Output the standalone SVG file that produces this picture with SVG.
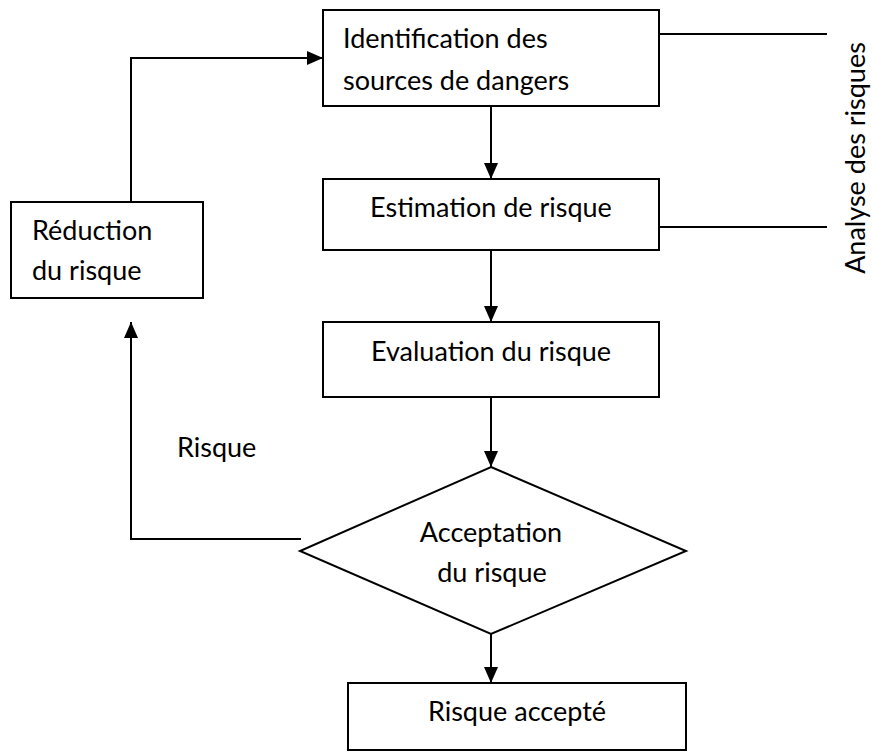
<svg xmlns="http://www.w3.org/2000/svg" width="872" height="753" viewBox="0 0 872 753">
<style>
.box{fill:#fff;stroke:#000;stroke-width:2}
.t{font-family:Lato,"Open Sans",sans-serif;font-size:27px;fill:#000}
.c{text-anchor:middle}
.ln{fill:none;stroke:#000;stroke-width:2}
</style>
<defs>
<marker id="ah" markerUnits="userSpaceOnUse" markerWidth="18" markerHeight="14" refX="16" refY="7" orient="auto">
<path d="M0,0 L16,7 L0,14 Z" fill="#000"/>
</marker>
</defs>
<rect width="872" height="753" fill="#fff"/>
<g id="connectors">
<line class="ln" x1="491" y1="106" x2="491" y2="179" marker-end="url(#ah)"/>
<line class="ln" x1="491" y1="250" x2="491" y2="322" marker-end="url(#ah)"/>
<line class="ln" x1="491" y1="397" x2="491" y2="467" marker-end="url(#ah)"/>
<line class="ln" x1="491" y1="634" x2="491" y2="683" marker-end="url(#ah)"/>
<polyline class="ln" points="131,202 131,58 323,58" marker-end="url(#ah)"/>
<polyline class="ln" points="301,539 131,539 131,322" marker-end="url(#ah)"/>
<line class="ln" x1="659" y1="34" x2="827" y2="34" stroke-width="1.5"/>
<line class="ln" x1="659" y1="227" x2="827" y2="227" stroke-width="1.5"/>
</g>
<g id="identification">
<rect class="box" x="323" y="10" width="336" height="96"/>
<text class="t" x="343" y="48">Identification des</text>
<text class="t" x="343" y="90">sources de dangers</text>
</g>
<g id="estimation">
<rect class="box" x="323" y="179" width="336" height="71"/>
<text class="t c" x="491" y="217">Estimation de risque</text>
</g>
<g id="evaluation">
<rect class="box" x="323" y="322" width="336" height="75"/>
<text class="t c" x="491" y="361">Evaluation du risque</text>
</g>
<g id="acceptation">
<polygon class="box" points="491,467 686,551 491,634 300,551"/>
<text class="t c" x="491" y="542">Acceptation</text>
<text class="t c" x="492" y="582">du risque</text>
</g>
<g id="accepte">
<rect class="box" x="348" y="683" width="338" height="67"/>
<text class="t c" x="517" y="721">Risque accepté</text>
</g>
<g id="reduction">
<rect class="box" x="11" y="202" width="192" height="96"/>
<text class="t" x="32" y="240">Réduction</text>
<text class="t" x="32" y="280">du risque</text>
</g>
<g id="labels">
<text class="t" x="177" y="457">Risque</text>
<text class="t c" transform="translate(865,158) rotate(-90)">Analyse des risques</text>
</g>
</svg>
